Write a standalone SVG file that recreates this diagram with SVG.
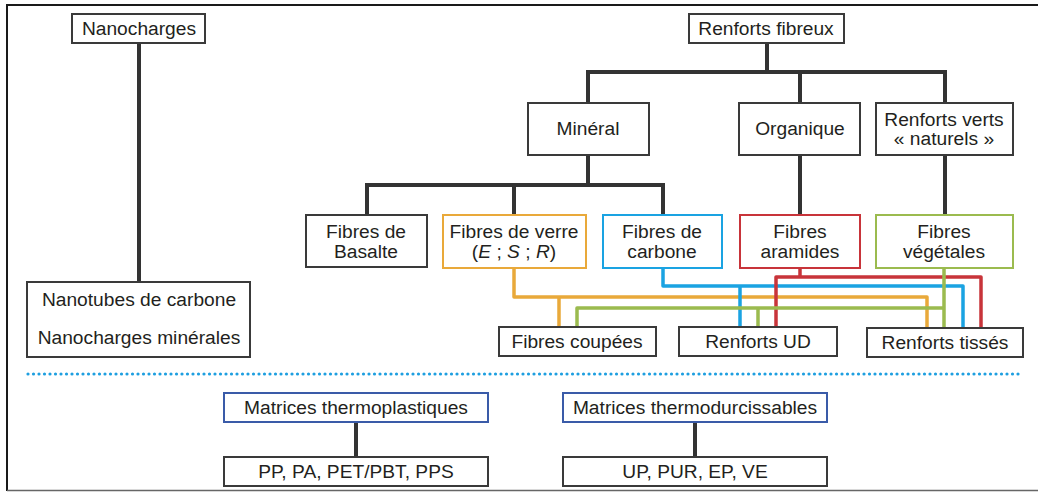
<svg xmlns="http://www.w3.org/2000/svg" width="1038" height="492" viewBox="0 0 1038 492">
<style>
.box{fill:#fff;stroke:#3a3a3a;stroke-width:2}
.t{font-family:"Liberation Sans",Arial,sans-serif;font-size:19.2px;fill:#231f20;text-anchor:middle}
.k{fill:none;stroke:#333;stroke-width:4;stroke-linejoin:miter}
.c{fill:none;stroke-width:3.5;stroke-linejoin:round}
</style>
<rect width="1038" height="492" fill="#fff"/>
<g id="frame">
<line x1="7" y1="5" x2="1038" y2="5" stroke="#1a1a1a" stroke-width="2"/>
<line x1="7" y1="4" x2="7" y2="491" stroke="#1a1a1a" stroke-width="2"/>
<line x1="7" y1="490.5" x2="1038" y2="490.5" stroke="#666" stroke-width="1.5"/>
</g>
<g id="connectors">
<path class="k" d="M139 43V282"/>
<path class="k" d="M767 43V72M588 103V72H945V103M800 72V103"/>
<path class="k" d="M588 155V185M367 215V185H663V215M514 185V215"/>
<path class="k" d="M800 155V215M945 155V215"/>
<path class="k" d="M356 422V457M695 422V457"/>
<path class="c" stroke="#e9a93a" d="M514 268V297H927V328M559 297V327"/>
<path class="c" stroke="#1aa3e2" d="M663 268V286H963V328M740 286V327"/>
<path class="c" stroke="#c8343a" d="M800 268V277M776 327V277H981V328"/>
<path class="c" stroke="#9bbb4f" d="M944 268V328M577 327V308H944M758 308V327"/>
<line x1="28" y1="374" x2="1020" y2="374" stroke="#1e9fe0" stroke-width="3.2" stroke-linecap="round" stroke-dasharray="0 5.5"/>
</g>
<g id="nanocharges"><rect class="box" x="72" y="14" width="133" height="29"/><text class="t" x="139" y="35">Nanocharges</text></g>
<g id="nanotubes"><rect class="box" x="27" y="282" width="223" height="75"/><text class="t" x="139" y="306">Nanotubes de carbone</text><text class="t" x="139" y="344">Nanocharges minérales</text></g>
<g id="renforts-fibreux"><rect class="box" x="689" y="14" width="155" height="29"/><text class="t" x="766" y="35">Renforts fibreux</text></g>
<g id="mineral"><rect class="box" x="528" y="103" width="121" height="52"/><text class="t" x="588" y="135">Minéral</text></g>
<g id="organique"><rect class="box" x="739" y="103" width="121" height="52"/><text class="t" x="800" y="135">Organique</text></g>
<g id="renforts-verts"><rect class="box" x="876" y="103" width="137" height="52"/><text class="t" x="944" y="126">Renforts verts</text><text class="t" x="944" y="145">« naturels »</text></g>
<g id="basalte"><rect class="box" x="306" y="215" width="121" height="52"/><text class="t" x="366" y="238">Fibres de</text><text class="t" x="366" y="258">Basalte</text></g>
<g id="verre"><rect class="box" style="stroke:#e9a93a" x="443" y="215" width="143" height="53"/><text class="t" x="514" y="238">Fibres de verre</text><text class="t" x="514" y="258">(<tspan font-style="italic">E</tspan> ; <tspan font-style="italic">S</tspan> ; <tspan font-style="italic">R</tspan>)</text></g>
<g id="carbone"><rect class="box" style="stroke:#1aa3e2" x="603" y="215" width="119" height="53"/><text class="t" x="662" y="238">Fibres de</text><text class="t" x="662" y="258">carbone</text></g>
<g id="aramides"><rect class="box" style="stroke:#c8343a" x="740" y="215" width="120" height="53"/><text class="t" x="800" y="238">Fibres</text><text class="t" x="800" y="258">aramides</text></g>
<g id="vegetales"><rect class="box" style="stroke:#9bbb4f" x="876" y="215" width="137" height="53"/><text class="t" x="944" y="238">Fibres</text><text class="t" x="944" y="258">végétales</text></g>
<g id="coupees"><rect class="box" x="499" y="327" width="157" height="29"/><text class="t" x="577" y="348">Fibres coupées</text></g>
<g id="ud"><rect class="box" x="679" y="327" width="158" height="29"/><text class="t" x="758" y="348">Renforts UD</text></g>
<g id="tisses"><rect class="box" x="867" y="328" width="156" height="29"/><text class="t" x="945" y="349">Renforts tissés</text></g>
<g id="thermoplastiques"><rect class="box" style="stroke:#3a5ba8" x="224" y="393" width="264" height="29"/><text class="t" x="356" y="414">Matrices thermoplastiques</text></g>
<g id="pp"><rect class="box" x="224" y="457" width="264" height="29"/><text class="t" x="356" y="478">PP, PA, PET/PBT, PPS</text></g>
<g id="thermodurcissables"><rect class="box" style="stroke:#3a5ba8" x="563" y="393" width="264" height="29"/><text class="t" x="695" y="414">Matrices thermodurcissables</text></g>
<g id="up"><rect class="box" x="563" y="457" width="264" height="29"/><text class="t" x="695" y="478">UP, PUR, EP, VE</text></g>
</svg>
